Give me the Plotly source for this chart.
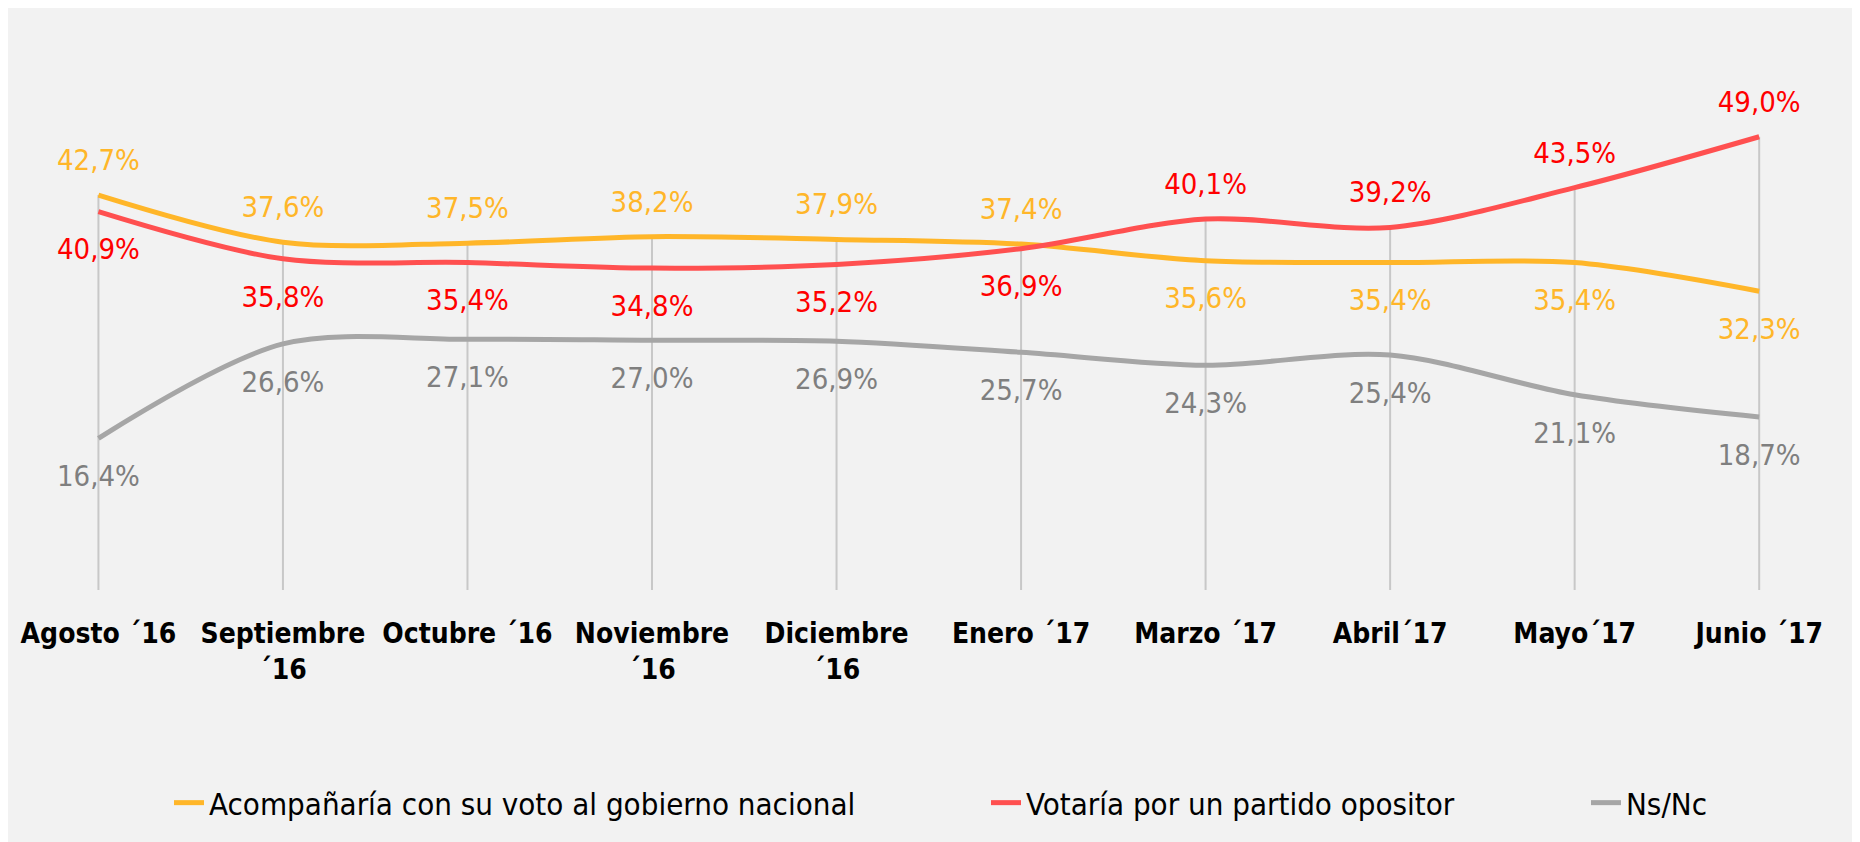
import numpy as np
import plotly.graph_objects as go

categories = ["Agosto ´16", "Septiembre<br>´16", "Octubre ´16", "Noviembre<br>´16",
              "Diciembre<br>´16", "Enero ´17", "Marzo ´17", "Abril´17", "Mayo´17", "Junio ´17"]
acompania = [42.7, 37.6, 37.5, 38.2, 37.9, 37.4, 35.6, 35.4, 35.4, 32.3]
opositor = [40.9, 35.8, 35.4, 34.8, 35.2, 36.9, 40.1, 39.2, 43.5, 49.0]
nsnc = [16.4, 26.6, 27.1, 27.0, 26.9, 25.7, 24.3, 25.4, 21.1, 18.7]

names = ["Acompañaría con su voto al gobierno nacional", "Votaría por un partido opositor", "Ns/Nc"]
line_colors = ["#FFB629", "#FF5050", "#A6A6A6"]
label_colors = ["#FFB629", "#FF0000", "#7F7F7F"]

# label side per point: True = above
above_acomp = [True] * 6 + [False] * 4
above_opos = [False] * 6 + [True] * 4
above_nsnc = [False] * 10

LABEL_FONT = "Tahoma, 'DejaVu Sans Condensed', 'DejaVu Sans', sans-serif"
FS = 29
W, H = 1844, 834
ML, MR, MT, MB = 0, 0, 27, 252
PW, PH = W - ML - MR, H - MT - MB


def fmt(v):
    return f"{v:.1f}".replace(".", ",") + "%"


fig = go.Figure()

# drop lines from the highest point to the axis
tops = np.max(np.array([acompania, opositor, nsnc]), axis=0)
fig.add_trace(go.Scatter(
    x=categories, y=tops, mode="markers",
    marker=dict(size=1, color="rgba(0,0,0,0)", line=dict(width=0)),
    error_y=dict(type="data", symmetric=False, array=[0] * len(tops), arrayminus=list(tops),
                 width=0, thickness=2, color="#C8C8C8"),
    showlegend=False, hoverinfo="skip"))

series = [acompania, opositor, nsnc]
aboves = [above_acomp, above_opos, above_nsnc]
legends = ["legend", "legend2", "legend3"]
for vals, ab, name, lc, tc, lg in zip(series, aboves, names, line_colors, label_colors, legends):
    fig.add_trace(go.Scatter(
        x=categories, y=vals, name=name, legend=lg,
        mode="lines+markers+text",
        line=dict(color=lc, width=5, shape="spline", smoothing=0.9),
        marker=dict(size=[27 if a else 40 for a in ab], color="rgba(0,0,0,0)",
                    line=dict(width=0)),
        text=[fmt(v) for v in vals],
        textposition=["top center" if a else "bottom center" for a in ab],
        textfont=dict(family=LABEL_FONT, size=FS, color=tc),
        hoverinfo="skip"))

leg_y = (MT + PH - 795) / PH
leg_common = dict(orientation="h", yref="paper", yanchor="middle", y=leg_y,
                  xanchor="left", bgcolor="rgba(0,0,0,0)",
                  font=dict(family=LABEL_FONT, size=31, color="#000000"))
fig.update_layout(
    width=W, height=H,
    margin=dict(l=ML, r=MR, t=MT, b=MB),
    paper_bgcolor="#F2F2F2", plot_bgcolor="#F2F2F2",
    xaxis=dict(type="category", range=[-0.49, 9.503], showgrid=False,
               showline=False, zeroline=False, ticks="", ticklabelstandoff=24,
               tickfont=dict(family=LABEL_FONT, size=28, color="#000000", weight="bold")),
    yaxis=dict(range=[0, 60], visible=False, showgrid=False, zeroline=False),
    legend=dict(x=(161 - ML) / PW, **leg_common),
    legend2=dict(x=(978 - ML) / PW, **leg_common),
    legend3=dict(x=(1578 - ML) / PW, **leg_common),
    showlegend=True,
)

fig.write_html("out.html")
